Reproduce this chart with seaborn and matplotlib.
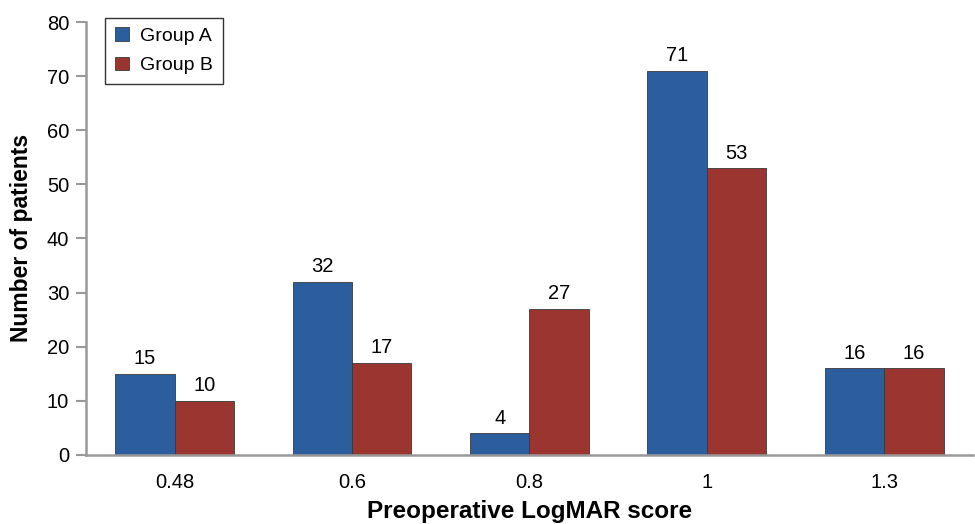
import matplotlib
matplotlib.use("Agg")
import matplotlib.pyplot as plt
import seaborn as sns
import pandas as pd

categories = ["0.48", "0.6", "0.8", "1", "1.3"]
group_a = [15, 32, 4, 71, 16]
group_b = [10, 17, 27, 53, 16]
series_names = ["Group A", "Group B"]
colors = ["#2c5d9c", "#9b3530"]

df = pd.DataFrame({
    "score": categories * 2,
    "count": group_a + group_b,
    "group": [series_names[0]] * len(categories) + [series_names[1]] * len(categories),
})

sns.set_style("white")
plt.rcParams["font.family"] = ["Liberation Sans", "DejaVu Sans"]
plt.rcParams["text.color"] = "black"
plt.rcParams["axes.labelcolor"] = "black"
plt.rcParams["xtick.color"] = "black"
plt.rcParams["ytick.color"] = "black"

fig, ax = plt.subplots(figsize=(9.75, 5.24), dpi=100)
fig.subplots_adjust(left=0.088, right=0.998, top=0.958, bottom=0.132)

sns.barplot(data=df, x="score", y="count", hue="group", order=categories,
            hue_order=series_names, palette=colors, saturation=1, width=0.67, ax=ax,
            edgecolor="#3a3a3a", linewidth=0.6, legend=True)

for cont in ax.containers:
    ax.bar_label(cont, fmt="%d", padding=4, fontsize=14.5, color="black")

ax.set_ylim(0, 80)
ax.set_yticks(range(0, 81, 10))
ax.set_xlim(-0.5, len(categories) - 0.5)
ax.set_xticks(range(len(categories)))
ax.set_xticklabels(categories)
ax.set_xticks([i - 0.5 for i in range(len(categories) + 1)], minor=True)
ax.tick_params(axis="x", which="major", length=0, labelsize=14.5, pad=13, labelcolor="black")
ax.tick_params(axis="x", which="minor", length=7, width=1.5, color="#999999", direction="out")
ax.tick_params(axis="y", length=7, width=1.5, color="#999999", labelsize=14.5, direction="out",
               left=True, labelcolor="black", pad=5)

for s in ["top", "right"]:
    ax.spines[s].set_visible(False)
for s in ["left", "bottom"]:
    ax.spines[s].set_color("#999999")
    ax.spines[s].set_linewidth(1.8)

ax.set_xlabel("Preoperative LogMAR score", fontsize=17.5, fontweight="bold", labelpad=6)
ax.set_ylabel("Number of patients", fontsize=16.5, fontweight="bold", labelpad=10)

leg = ax.legend(loc="upper left", bbox_to_anchor=(0.022, 1.01), borderaxespad=0,
                frameon=True, fancybox=False,
                edgecolor="black", fontsize=14, handlelength=0.7, handleheight=0.7,
                handletextpad=0.6, borderpad=0.5, labelspacing=0.6)
leg.get_frame().set_linewidth(1.0)

fig.savefig("out.png", dpi=100)
